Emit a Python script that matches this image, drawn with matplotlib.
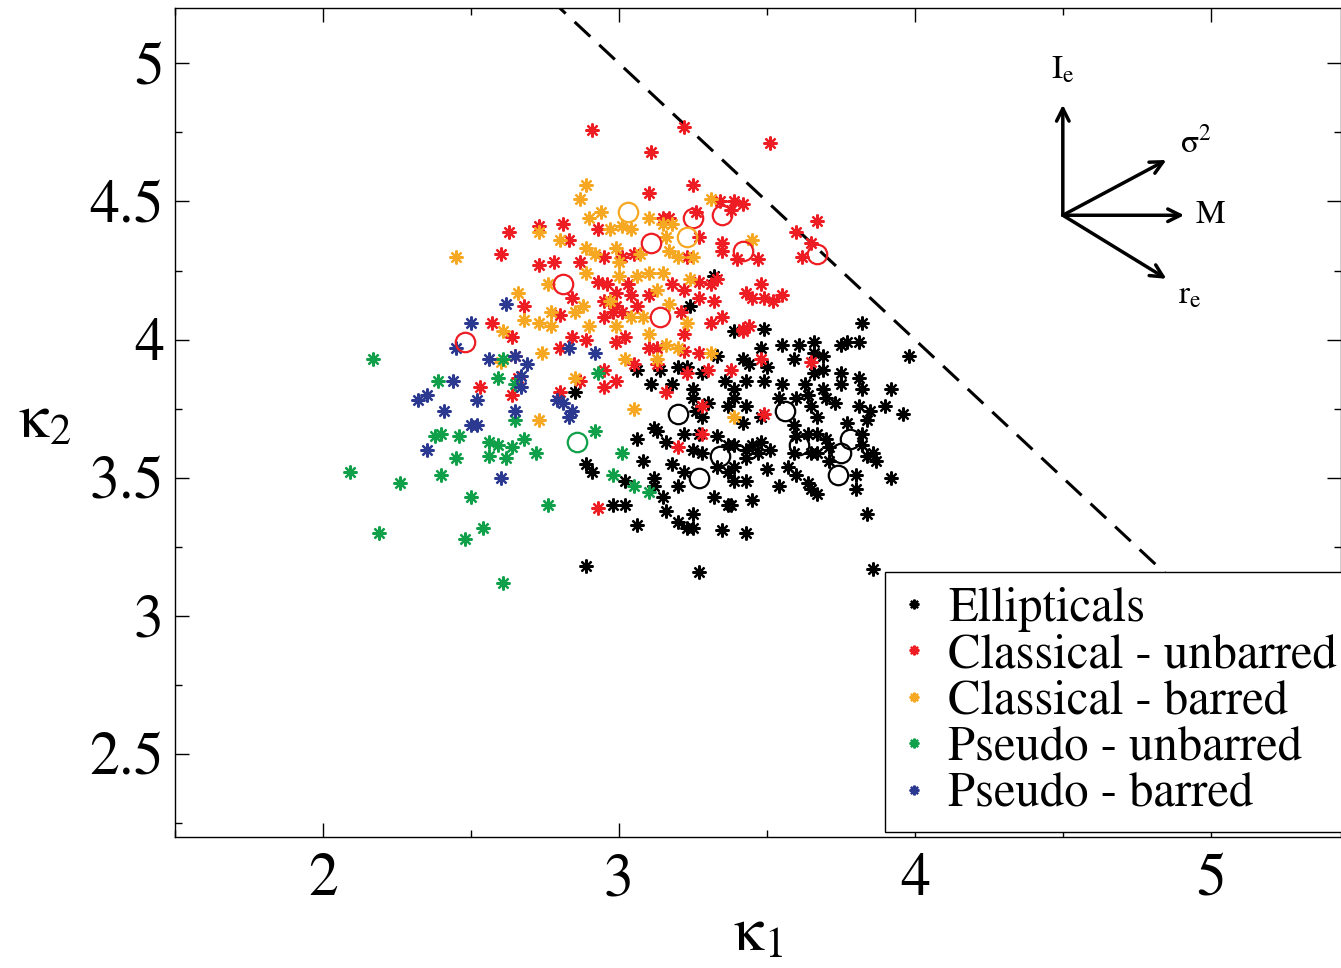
import matplotlib
matplotlib.use("Agg")
import matplotlib.pyplot as plt
from matplotlib.ticker import MultipleLocator

plt.rcParams['font.family'] = ['STIXGeneral', 'DejaVu Sans']
plt.rcParams['mathtext.fontset'] = 'stix'

# ─── Data (kappa1, kappa2) ────────────────────────────────────────────────────
ellipticals = [
    (3.32, 4.23), (3.24, 4.12), (3.33, 3.94), (3.06, 3.89), (3.11, 3.84), (3.18, 3.84),
    (3.14, 3.89), (3.20, 3.90), (3.23, 3.90), (3.28, 3.88), (3.25, 3.82), (3.25, 3.79),
    (3.26, 3.74), (3.30, 3.77), (3.28, 3.72), (3.36, 3.85), (3.37, 3.76), (2.85, 3.81),
    (3.12, 3.68),
    (3.82, 4.06), (3.77, 3.99), (3.81, 3.99), (3.75, 3.98), (3.98, 3.94), (3.92, 3.82),
    (3.82, 3.82), (3.81, 3.86), (3.75, 3.88), (3.75, 3.84), (3.69, 3.89), (3.66, 3.88),
    (3.63, 3.84), (3.64, 3.80), (3.69, 3.82), (3.70, 3.79), (3.73, 3.77), (3.60, 3.79),
    (3.55, 3.84), (3.54, 3.79), (3.66, 3.99), (3.61, 3.98), (3.55, 3.98), (3.59, 3.93),
    (3.66, 3.95), (3.69, 3.94), (3.48, 3.97), (3.50, 3.90), (3.49, 3.85), (3.42, 3.93),
    (3.44, 3.91), (3.39, 4.03), (3.49, 4.04), (3.43, 3.85), (3.39, 3.82), (3.43, 3.76),
    (3.39, 3.79), (3.48, 3.72), (3.42, 3.70), (3.59, 3.69), (3.65, 3.76), (3.67, 3.72),
    (3.77, 3.70), (3.81, 3.76), (3.85, 3.74), (3.84, 3.71), (3.90, 3.76), (3.96, 3.73),
    (2.89, 3.55), (2.91, 3.52), (3.02, 3.49), (3.06, 3.64), (3.08, 3.56), (3.12, 3.50),
    (3.12, 3.47), (3.15, 3.43), (2.98, 3.40), (3.02, 3.40), (3.16, 3.38), (3.06, 3.33),
    (3.20, 3.34), (3.23, 3.32), (3.25, 3.32), (3.25, 3.37), (3.32, 3.43), (3.35, 3.31),
    (3.37, 3.40), (2.89, 3.18), (3.27, 3.16), (3.13, 3.67), (3.16, 3.63), (3.22, 3.66),
    (3.27, 3.66), (3.33, 3.65), (3.20, 3.47), (3.18, 3.55), (3.22, 3.52), (3.25, 3.60),
    (3.28, 3.59), (3.33, 3.54), (3.37, 3.52), (3.37, 3.62),
    (3.39, 3.62), (3.43, 3.60), (3.45, 3.62), (3.48, 3.63), (3.47, 3.59), (3.43, 3.57),
    (3.51, 3.60), (3.39, 3.54), (3.39, 3.49), (3.43, 3.49), (3.50, 3.53), (3.54, 3.47),
    (3.57, 3.54), (3.60, 3.51), (3.64, 3.48), (3.65, 3.46), (3.67, 3.44), (3.45, 3.42),
    (3.38, 3.40), (3.43, 3.30), (3.59, 3.59), (3.65, 3.59), (3.67, 3.59), (3.60, 3.65),
    (3.64, 3.66), (3.67, 3.66), (3.70, 3.64), (3.71, 3.61), (3.71, 3.56), (3.82, 3.66),
    (3.82, 3.62), (3.84, 3.58), (3.86, 3.59), (3.87, 3.56), (3.80, 3.51), (3.80, 3.46),
    (3.92, 3.50), (3.84, 3.37), (3.86, 3.17),
]

classical_unbarred = [
    (2.63, 4.39), (2.60, 4.31),
    (2.91, 4.76), (3.11, 4.68), (3.22, 4.77), (3.10, 4.53), (3.25, 4.56), (3.34, 4.50),
    (2.73, 4.41), (2.81, 4.42), (2.93, 4.40), (2.83, 4.36), (3.01, 4.30), (3.05, 4.31),
    (3.15, 4.44), (3.17, 4.44), (3.26, 4.46), (3.27, 4.37), (3.23, 4.30), (2.73, 4.27),
    (2.78, 4.28), (2.87, 4.28), (2.95, 4.30), (3.35, 4.35), (3.35, 4.32),
    (3.51, 4.71), (3.39, 4.50), (3.42, 4.49), (3.38, 4.47), (3.67, 4.43), (3.60, 4.39),
    (3.65, 4.35), (3.62, 4.30), (3.47, 4.29), (3.40, 4.29),
    (2.57, 4.06), (2.64, 4.01), (2.65, 3.94), (2.53, 3.83), (2.64, 3.80), (2.66, 3.86),
    (2.68, 4.12),
    (2.93, 4.21), (2.96, 4.20), (3.03, 4.20), (3.04, 4.16), (2.99, 4.17), (2.95, 4.14),
    (2.98, 4.10), (3.01, 4.10), (2.95, 4.08), (2.99, 4.12), (3.06, 4.12), (3.10, 4.16),
    (3.18, 4.20), (3.22, 4.18), (3.27, 4.21), (3.31, 4.20), (3.33, 4.22), (3.27, 4.15),
    (3.32, 4.14), (3.35, 4.08), (3.31, 4.06), (3.21, 4.10), (3.22, 4.02), (3.10, 3.97),
    (3.13, 3.97), (3.02, 4.01), (2.99, 3.99), (2.89, 4.00), (2.84, 4.01), (2.80, 3.97),
    (2.80, 4.09), (2.84, 4.15), (3.05, 3.91), (3.13, 3.91), (3.23, 3.88), (3.30, 3.89),
    (3.27, 3.95), (3.22, 3.96), (2.95, 3.89), (2.87, 3.85), (2.95, 3.83), (2.99, 3.85),
    (2.80, 3.81), (3.16, 3.81), (3.28, 3.76),
    (3.48, 4.20), (3.43, 4.17), (3.45, 4.15), (3.49, 4.15), (3.52, 4.14), (3.55, 4.16),
    (3.42, 4.04), (3.44, 4.05), (3.42, 4.03), (3.48, 3.93), (3.65, 3.92), (3.38, 3.89),
    (3.49, 3.73),
    (2.93, 3.39), (3.20, 3.61), (3.28, 3.66),
]

classical_barred = [
    (2.45, 4.30),
    (2.89, 4.56), (2.87, 4.51), (3.31, 4.51), (2.90, 4.44), (2.94, 4.46), (2.97, 4.40),
    (3.01, 4.41), (3.04, 4.40), (3.10, 4.44), (3.15, 4.42), (3.18, 4.42), (3.16, 4.37),
    (2.89, 4.33), (2.92, 4.31), (2.99, 4.33), (3.00, 4.28), (3.07, 4.31), (3.17, 4.32),
    (3.20, 4.30), (3.25, 4.30), (2.80, 4.36), (2.73, 4.39),
    (3.45, 4.36),
    (2.66, 4.17), (2.68, 4.07), (2.61, 4.03), (2.60, 3.92),
    (2.76, 4.20), (2.89, 4.24), (3.00, 4.23), (3.06, 4.23), (3.10, 4.24), (3.15, 4.24),
    (3.24, 4.22), (3.13, 4.18), (3.17, 4.13), (2.88, 4.12), (2.85, 4.10), (2.90, 4.05),
    (2.97, 4.14), (3.04, 4.08), (3.08, 4.08), (2.99, 4.05), (3.10, 4.02), (3.16, 3.98),
    (3.20, 3.97), (3.31, 3.95), (3.02, 3.93), (3.13, 3.93), (2.77, 4.10), (2.73, 4.06),
    (2.77, 4.05), (2.74, 3.95), (2.85, 3.86), (2.73, 3.71), (3.05, 3.75), (3.23, 4.06),
    (3.39, 3.72),
]

pseudo_unbarred = [
    (2.17, 3.93), (2.39, 3.85), (2.61, 3.93), (2.59, 3.86), (2.65, 3.84), (2.65, 3.71),
    (2.09, 3.52), (2.26, 3.48), (2.19, 3.30), (2.40, 3.51), (2.45, 3.57), (2.38, 3.65),
    (2.40, 3.66), (2.46, 3.65), (2.50, 3.43), (2.48, 3.28), (2.54, 3.32), (2.61, 3.12),
    (2.56, 3.63), (2.59, 3.62), (2.56, 3.58), (2.62, 3.57), (2.64, 3.61), (2.68, 3.64),
    (2.72, 3.59), (2.92, 3.67), (3.01, 3.59), (2.98, 3.51), (3.05, 3.47), (3.10, 3.45),
    (2.76, 3.40), (2.93, 3.88),
]

pseudo_barred = [
    (2.62, 4.13), (2.50, 4.06), (2.45, 3.97), (2.56, 3.93), (2.65, 3.94), (2.69, 3.91),
    (2.44, 3.85), (2.35, 3.80), (2.32, 3.78), (2.52, 3.78), (2.67, 3.87), (2.67, 3.83),
    (2.65, 3.74), (2.41, 3.74), (2.50, 3.69), (2.52, 3.69), (2.35, 3.60), (2.60, 3.50),
    (2.83, 3.97), (2.92, 3.95), (2.79, 3.78), (2.81, 3.77), (2.84, 3.74), (2.83, 3.72),
]

# open circles (highlighted objects)
circ_black = [(3.20, 3.73), (3.34, 3.58), (3.27, 3.50), (3.56, 3.74),
              (3.61, 3.62), (3.75, 3.59), (3.78, 3.64), (3.74, 3.51)]
circ_red = [(2.48, 3.99), (2.81, 4.20), (3.11, 4.35), (3.25, 4.44),
            (3.35, 4.45), (3.42, 4.32), (3.67, 4.31), (3.14, 4.08)]
circ_orange = [(3.03, 4.46), (3.23, 4.37)]
circ_green = [(2.86, 3.63)]

# dividing line kappa2 = LINE_C - kappa1
LINE_C = 8.0

SERIES = [
    ("Ellipticals", ellipticals, "#000000"),
    ("Classical - unbarred", classical_unbarred, "#EE1D23"),
    ("Classical - barred", classical_barred, "#F7A823"),
    ("Pseudo - unbarred", pseudo_unbarred, "#10A04A"),
    ("Pseudo - barred", pseudo_barred, "#2B3990"),
]
CIRCLES = [
    (circ_black, "#000000"),
    (circ_red, "#EE1D23"),
    (circ_orange, "#F7A823"),
    (circ_green, "#10A04A"),
]

STAR = (8, 2, 0)

fig = plt.figure(figsize=(13.41, 9.68), dpi=100)
ax = fig.add_axes([175 / 1341, 131 / 968, 1166 / 1341, 829 / 968])

for label, pts, col in SERIES:
    xs = [p[0] for p in pts]
    ys = [p[1] for p in pts]
    ax.plot(xs, ys, linestyle="none", marker=STAR, markersize=10,
            markeredgewidth=1.6, color=col, label=label, zorder=3)

for pts, col in CIRCLES:
    xs = [p[0] for p in pts]
    ys = [p[1] for p in pts]
    ax.plot(xs, ys, linestyle="none", marker="o", markersize=14,
            markerfacecolor="none", markeredgecolor=col, markeredgewidth=1.6,
            zorder=4)

lx = [2.6, 5.6]
ax.plot(lx, [LINE_C - v for v in lx], color="black", lw=2.2,
        dashes=(7, 4), zorder=2)

ax.set_xlim(1.5, 5.44)
ax.set_ylim(2.2, 5.2)
ax.xaxis.set_major_locator(MultipleLocator(1))
ax.xaxis.set_minor_locator(MultipleLocator(0.5))
ax.yaxis.set_major_locator(MultipleLocator(0.5))
ax.yaxis.set_minor_locator(MultipleLocator(0.25))
ax.tick_params(which="both", direction="in", top=True, right=True, width=1.0)
ax.tick_params(which="major", length=10, labelsize=43)
ax.tick_params(which="minor", length=5)
ax.tick_params(axis="x", pad=12)
ax.tick_params(axis="y", pad=8)
ax.yaxis.set_major_formatter(plt.FuncFormatter(lambda v, _: f"{v:g}"))
for sp in ax.spines.values():
    sp.set_linewidth(1.0)

ax.set_xlabel("κ$_1$", fontsize=44, labelpad=0)
ax.set_ylabel("κ$_2$", fontsize=44, rotation=0, labelpad=32, va="center")

# direction arrows (top right)
origin = (4.5, 4.45)
arrows = [
    ((4.5, 4.85), "I$_\\mathrm{e}$", (4.5, 4.975)),
    ((4.85, 4.65), "σ$^2$", (4.95, 4.71)),
    ((4.91, 4.45), "M", (5.0, 4.45)),
    ((4.85, 4.22), "r$_\\mathrm{e}$", (4.93, 4.16)),
]
for tip, txt, tpos in arrows:
    ax.annotate("", xy=tip, xytext=origin,
                arrowprops=dict(arrowstyle="->,head_length=0.9,head_width=0.45",
                                lw=2.5, color="black", shrinkA=0, shrinkB=0))
    ax.text(tpos[0], tpos[1], txt, fontsize=24, ha="center", va="center")

leg = ax.legend(loc="upper left", bbox_to_anchor=(885 / 1341, 1 - 572 / 968),
                bbox_transform=fig.transFigure, fontsize=35, frameon=True,
                fancybox=False, framealpha=1.0, borderaxespad=0, borderpad=0.3,
                handlelength=0.6, handletextpad=0.4, labelspacing=0.03,
                markerscale=0.7)
leg.get_frame().set_edgecolor("black")
leg.get_frame().set_linewidth(1.0)
leg.set_zorder(10)

fig.savefig("out.png", dpi=100)
